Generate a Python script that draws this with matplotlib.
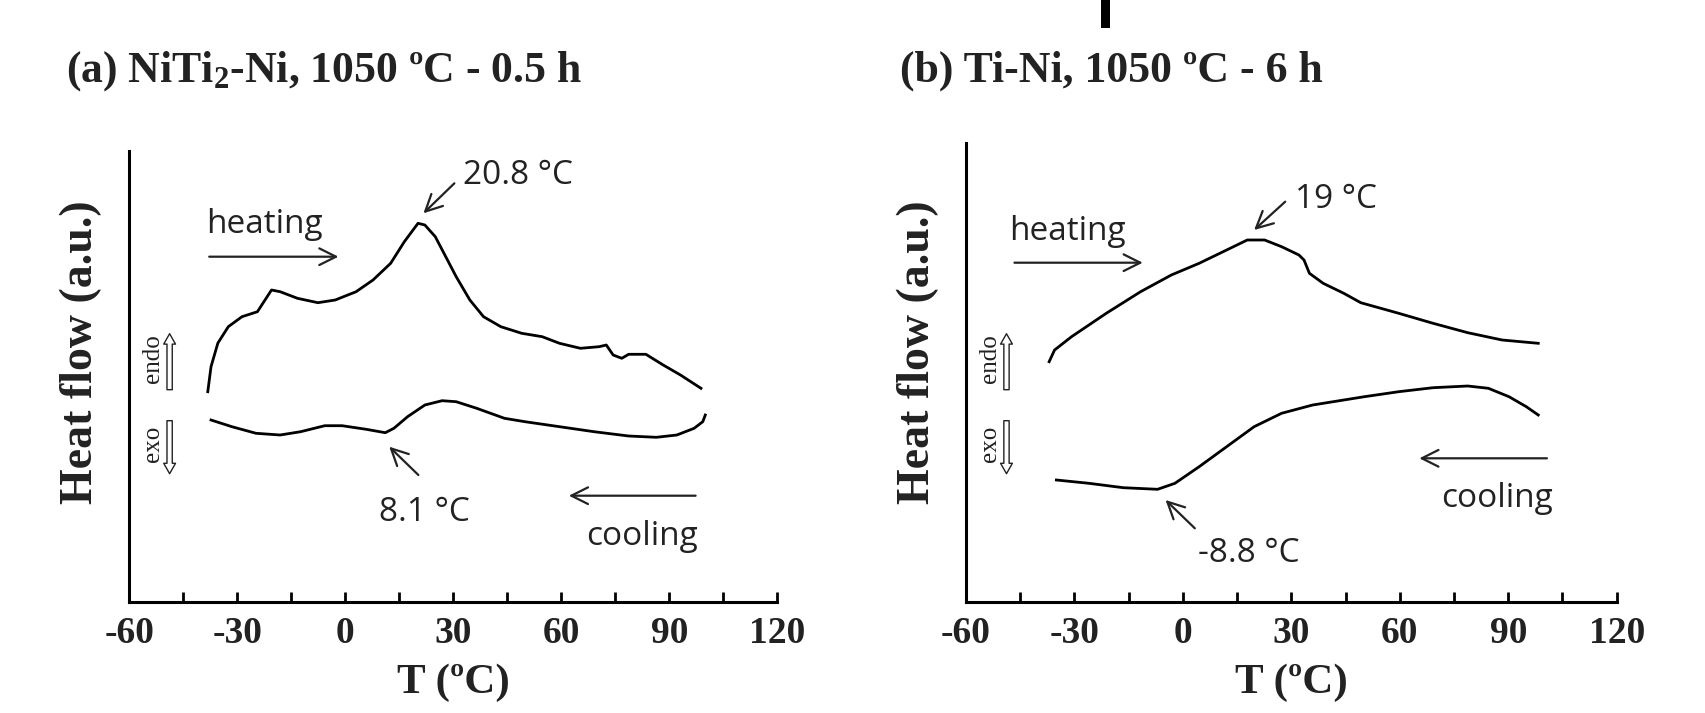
import matplotlib
matplotlib.use("Agg")
import matplotlib.pyplot as plt
from matplotlib.transforms import blended_transform_factory
from matplotlib.patches import Rectangle

# ---------------- data (heat flow in arbitrary units) ----------------
Ta_heat = [-38.2, -37.3, -35.4, -32.5, -28.7, -24.4, -22.9, -20.5, -18.1, -13.3, -7.6, -2.8,
           3.0, 7.7, 12.6, 16.4, 20.2, 22.1, 25.0, 27.9, 30.8, 34.6, 38.4, 43.2, 49.0, 54.7,
           59.5, 65.3, 70.5, 72.5, 74.4, 76.8, 78.7, 83.5, 88.3, 93.1, 98.8]
Ha_heat = [210, 235, 258.6, 275, 285, 290, 298.4, 311.7, 310, 303.4, 299, 301.7,
           310, 321.7, 338.4, 360, 378.4, 376.7, 365, 345, 325, 301.7, 285, 275, 268.4, 265,
           258.4, 253.4, 255, 256.7, 246.7, 243.4, 247.4, 247.4, 236.7, 226.7, 213.4]

Ta_cool = [-37.3, -31.5, -24.8, -18.1, -12.4, -5.7, -0.9, 5.8, 11.1, 13.5, 17.3, 22.1, 26.9,
           30.8, 36.5, 44.2, 49.9, 59.5, 69.1, 78.7, 86.4, 92.1, 96.9, 99.3, 100.0]
Ha_cool = [181.7, 175, 168.4, 166.7, 170, 176, 176, 172.4, 169, 173.4, 185, 196.7, 201,
           200, 193.4, 183.4, 180, 175, 170, 165.7, 164.4, 166.7, 173.4, 180, 186.7]

Tb_heat = [-37.0, -35.5, -30.8, -21.2, -11.7, -3.2, 4.5, 12.1, 17.8, 22.6, 27.3, 32.1, 33.5,
           35.0, 38.8, 44.5, 49.2, 59.7, 69.2, 78.8, 88.3, 98.3]
Hb_heat = [240, 251.7, 265, 288.4, 310, 326.7, 338.4, 351.7, 361.7, 361.7, 355, 346.7, 341.7,
           328.4, 318.4, 308.4, 299, 288.4, 278.4, 269, 261.7, 258.4]

Tb_cool = [-35.0, -26.0, -16.5, -7.0, -2.2, 4.5, 12.1, 19.7, 27.3, 35.9, 50.2, 59.7, 69.2,
           78.8, 84.5, 90.2, 95.0, 98.3]
Hb_cool = [121.7, 118.4, 114, 112.4, 118.4, 135, 155, 175, 188.4, 196.7, 205, 210, 214,
           215.7, 213.4, 205, 195, 186.7]

titles = [r"(a) NiTi$_\mathbf{2}$-Ni, 1050 ºC - 0.5 h", "(b) Ti-Ni, 1050 ºC - 6 h"]
xticks = [-60, -30, 0, 30, 60, 90, 120]
minor_ticks = [-45, -15, 15, 45, 75, 105]

# ---------------- style ----------------
plt.rcParams['mathtext.fontset'] = 'custom'
plt.rcParams['mathtext.rm'] = 'Liberation Serif:bold'
plt.rcParams['mathtext.bf'] = 'Liberation Serif:bold'
plt.rcParams['mathtext.it'] = 'Liberation Serif:bold'

SERIF = 'Liberation Serif'
SANS = 'Open Sans'
TXT = '#222222'
ANN_FS = 24

fig = plt.figure(figsize=(17.06, 7.13), dpi=100)
W, H = 1706, 713

ax_a = fig.add_axes([129.3 / W, (H - 601.7) / H, 648 / W, 451 / H])
ax_b = fig.add_axes([966 / W, (H - 601.7) / H, 650.7 / W, 458.4 / H])

panels = [
    (ax_a, Ta_heat, Ha_heat, Ta_cool, Ha_cool, 451, -0.0983, 1.153, 0.554, titles[0]),
    (ax_b, Tb_heat, Hb_heat, Tb_cool, Hb_cool, 458.4, -0.102, 1.134, 0.545, titles[1]),
]

for ax, th, hh, tc, hc, ytop, tx, ty, yly, ttl in panels:
    ax.plot(th, hh, color='black', lw=2.0)
    ax.plot(tc, hc, color='black', lw=2.0)
    ax.set_xlim(-60, 120)
    ax.set_ylim(0, ytop)
    ax.set_xticks(xticks)
    ax.set_xticks(minor_ticks, minor=True)
    ax.set_yticks([])
    for s in ['top', 'right']:
        ax.spines[s].set_visible(False)
    for s in ['left', 'bottom']:
        ax.spines[s].set_linewidth(2.2)
    ax.tick_params(axis='x', which='both', direction='in', length=7, width=2, pad=10)
    ax.set_xticklabels([str(v) for v in xticks], fontfamily=SERIF, fontweight='bold',
                       fontsize=27, color=TXT)
    ax.set_xlabel("T (ºC)", fontfamily=SERIF, fontweight='bold', fontsize=31, color=TXT,
                  va='top')
    ax.xaxis.set_label_coords(0.5, 1 - 664 / H,
                              transform=blended_transform_factory(ax.transAxes, fig.transFigure))
    ax.set_ylabel("Heat flow (a.u.)", fontfamily=SERIF, fontweight='bold', fontsize=33,
                  color=TXT, va='center')
    ax.yaxis.set_label_coords(-48 / 648, yly)
    ax.text(tx, ty, ttl, transform=ax.transAxes, ha='left', va='baseline',
            fontfamily=SERIF, fontweight='bold', fontsize=31.5, color=TXT)

    # endo / exo markers
    ax.text(-53.3, 243, "endo", rotation=90, ha='center', va='center', fontfamily=SERIF,
            fontsize=18, color=TXT)
    ax.text(-53.3, 158, "exo", rotation=90, ha='center', va='center', fontfamily=SERIF,
            fontsize=18, color=TXT)
    hollow = dict(arrowstyle='simple,head_width=0.85,head_length=0.75,tail_width=0.38',
                  fc='white', ec='#222222', lw=1.0, shrinkA=0, shrinkB=0)
    ax.annotate('', xy=(-48.8, 268), xytext=(-48.8, 212), arrowprops=hollow)
    ax.annotate('', xy=(-48.8, 128), xytext=(-48.8, 181), arrowprops=hollow)

arrow = dict(arrowstyle='->,head_length=0.6,head_width=0.3', color='#222222', lw=1.6,
             shrinkA=0, shrinkB=0, mutation_scale=20)

# panel a annotations
ax_a.annotate('', xy=(21.7, 388.4), xytext=(30.3, 418.4), arrowprops=arrow)
ax_a.text(32.7, 426.7, "20.8 °C", ha='left', va='center', fontfamily=SANS, fontsize=ANN_FS, color=TXT)
ax_a.text(-38.7, 369, "heating", ha='left', va='baseline', fontfamily=SANS, fontsize=ANN_FS, color=TXT)
ax_a.annotate('', xy=(-1.9, 345), xytext=(-37.8, 345), arrowprops=arrow)
ax_a.annotate('', xy=(12.2, 155), xytext=(20.3, 126.7), arrowprops=arrow)
ax_a.text(22, 80.5, "8.1 °C", ha='center', va='baseline', fontfamily=SANS, fontsize=ANN_FS, color=TXT)
ax_a.annotate('', xy=(62.1, 106), xytext=(97.3, 106), arrowprops=arrow)
ax_a.text(82.5, 56.7, "cooling", ha='center', va='baseline', fontfamily=SANS, fontsize=ANN_FS, color=TXT)

# panel b annotations
ax_b.annotate('', xy=(19.7, 371.7), xytext=(28.3, 400), arrowprops=arrow)
ax_b.text(31.1, 393.7, "19 °C", ha='left', va='baseline', fontfamily=SANS, fontsize=ANN_FS, color=TXT)
ax_b.text(-48.2, 361.7, "heating", ha='left', va='baseline', fontfamily=SANS, fontsize=ANN_FS, color=TXT)
ax_b.annotate('', xy=(-11.1, 339), xytext=(-46.6, 339), arrowprops=arrow)
ax_b.annotate('', xy=(65.4, 143.4), xytext=(100.7, 143.4), arrowprops=arrow)
ax_b.text(87, 94.7, "cooling", ha='center', va='baseline', fontfamily=SANS, fontsize=ANN_FS, color=TXT)
ax_b.annotate('', xy=(-4.8, 101.7), xytext=(3.3, 73.4), arrowprops=arrow)
ax_b.text(18.3, 39.7, "-8.8 °C", ha='center', va='baseline', fontfamily=SANS, fontsize=ANN_FS, color=TXT)

# black artifact bar at top of the image
fig.patches.append(Rectangle((1101 / W, 1 - 28 / H), 9 / W, 28 / H, transform=fig.transFigure,
                             facecolor='black', edgecolor='none'))

fig.savefig("out.png", dpi=100, facecolor='white')
